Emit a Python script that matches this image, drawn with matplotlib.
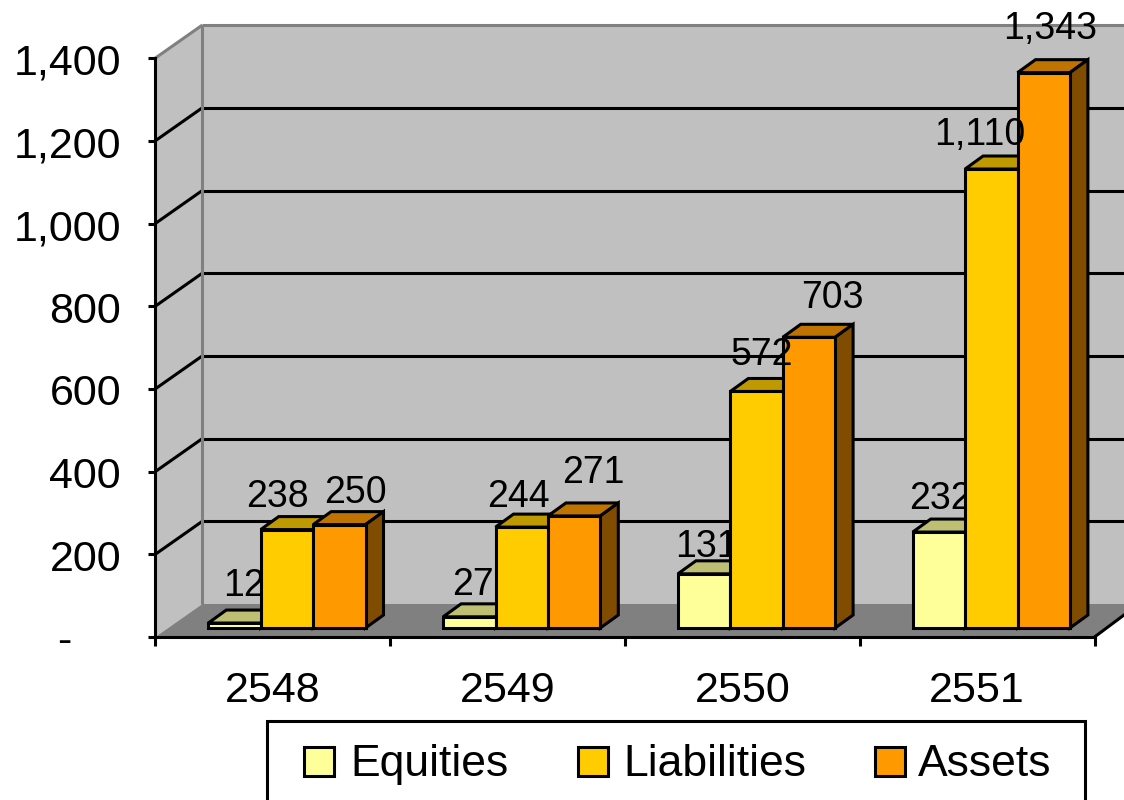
import matplotlib

matplotlib.use("Agg")
import matplotlib.pyplot as plt
import numpy as np
from matplotlib.patches import Polygon, Rectangle

years = ["2548", "2549", "2550", "2551"]
equities = [12, 27, 131, 232]
liabilities = [238, 244, 572, 1110]
assets = [250, 271, 703, 1343]
value_ticks = [200, 400, 600, 800, 1000, 1200, 1400]
value_tick_labels = ["200", "400", "600", "800", "1,000", "1,200", "1,400"]

# label nudges in pixels: sideways from bar centre, up from bar front top
equities_nudge = [(9, 40), (4, 34), (2, 29), (2, 36)]
liabilities_nudge = [(-9, 35), (-3, 33), (5, 39), (-12, 37)]
assets_nudge = [(16, 34), (19, 45), (23, 42), (6, 46)]

WIDTH, HEIGHT = 1124, 800
X0, Y0 = 155.3, 637.0
CAT_PX = 234.8
VAL_PX = 0.4135
WALL_DX, WALL_DY = 47, 33
BAR_DX, BAR_DY = 18, 13
BAR_BASE_PX = 628
BAR_START_PX = 53
BAR_PX = 52.4
LW = 2.2
TEXT_FONT = "Liberation Sans"


def px_x(x):
    return (x - X0) / CAT_PX


def px_y(y):
    return (Y0 - y) / VAL_PX


def pts(*pairs):
    return [(px_x(x), px_y(y)) for x, y in pairs]


def draw_series(ax, values, offset, face, top, side, zorder):
    lefts = np.arange(len(values)) + (BAR_START_PX + offset * BAR_PX) / CAT_PX
    base = px_y(BAR_BASE_PX)
    ax.bar(
        lefts,
        values,
        width=BAR_PX / CAT_PX,
        bottom=base,
        align="edge",
        color=face,
        edgecolor="black",
        linewidth=LW,
        joinstyle="miter",
        zorder=zorder + 0.2,
    )
    step_x = BAR_DX / CAT_PX
    step_y = BAR_DY / VAL_PX
    right_w = BAR_PX / CAT_PX
    for left, value in zip(lefts, values):
        y_top = base + value
        ax.add_patch(
            Polygon(
                [
                    (left, y_top),
                    (left + step_x, y_top + step_y),
                    (left + right_w + step_x, y_top + step_y),
                    (left + right_w, y_top),
                ],
                facecolor=top,
                edgecolor="black",
                linewidth=LW,
                zorder=zorder,
            )
        )
        ax.add_patch(
            Polygon(
                [
                    (left + right_w, base),
                    (left + right_w + step_x, base + step_y),
                    (left + right_w + step_x, y_top + step_y),
                    (left + right_w, y_top),
                ],
                facecolor=side,
                edgecolor="black",
                linewidth=LW,
                zorder=zorder + 0.1,
            )
        )


def draw_labels(ax, values, offset, nudges, zorder):
    base = px_y(BAR_BASE_PX)
    for i, (value, nudge) in enumerate(zip(values, nudges)):
        x = i + (BAR_START_PX + (offset + 0.5) * BAR_PX + nudge[0]) / CAT_PX
        y = base + value + (nudge[1] - 12.5) / VAL_PX
        ax.text(
            x,
            y,
            f"{value:,}",
            ha="center",
            va="baseline",
            fontsize=27,
            family=TEXT_FONT,
            zorder=zorder,
        )


fig = plt.figure(figsize=(WIDTH / 100, HEIGHT / 100), dpi=100)
ax = fig.add_axes([0, 0, 1, 1])
ax.set_xlim(px_x(0), px_x(WIDTH))
ax.set_ylim(px_y(HEIGHT), px_y(0))
ax.axis("off")

top_value = value_ticks[-1]
wall_left = X0 + WALL_DX
wall_floor = Y0 - WALL_DY
wall_top = wall_floor - top_value * VAL_PX
front_top = Y0 - top_value * VAL_PX

ax.add_patch(
    Polygon(pts((wall_left, wall_top), (WIDTH, wall_top), (WIDTH, wall_floor), (wall_left, wall_floor)),
            facecolor="#c0c0c0", edgecolor="none", zorder=1)
)
ax.add_patch(
    Polygon(pts((X0, front_top), (wall_left, wall_top), (wall_left, wall_floor), (X0, Y0)),
            facecolor="#c0c0c0", edgecolor="none", zorder=1)
)
ax.add_patch(
    Polygon(pts((X0, Y0), (wall_left, wall_floor), (WIDTH, wall_floor), (WIDTH, Y0 - 22), (X0 + 4 * CAT_PX, Y0)),
            facecolor="#808080", edgecolor="none", zorder=1)
)

# gridlines run along the side wall and then the back wall
for value in value_ticks:
    x_front, x_back = 0, px_x(wall_left)
    shift = WALL_DY / VAL_PX
    color = "#808080" if value == top_value else "black"
    ax.plot([x_front, x_back], [value, value + shift], color=color, lw=LW, zorder=1.5, solid_capstyle="butt")
    ax.plot([x_back, px_x(WIDTH)], [value + shift, value + shift], color=color, lw=LW, zorder=1.5, solid_capstyle="butt")

ax.plot([px_x(wall_left)] * 2, [px_y(wall_top), px_y(wall_floor)], color="#808080", lw=LW, zorder=1.6, solid_capstyle="butt")

# front axes
ax.plot([0, 0], [0, top_value], color="black", lw=LW, zorder=1.8, solid_capstyle="projecting")
ax.plot([0, len(years)], [0, 0], color="black", lw=LW, zorder=1.8, solid_capstyle="projecting")
ax.plot([len(years), px_x(WIDTH)], [0, px_y(Y0 - 22)], color="black", lw=LW, zorder=1.8)
for value in [0] + value_ticks:
    ax.plot([px_x(X0 - 7), 0], [value, value], color="black", lw=LW, zorder=1.8, solid_capstyle="butt")
for i in range(len(years) + 1):
    ax.plot([i, i], [0, px_y(Y0 + 9)], color="black", lw=LW, zorder=1.8, solid_capstyle="butt")

for value, label in zip(value_ticks, value_tick_labels):
    ax.text(px_x(121), value - 16.5 / VAL_PX, label, ha="right", va="baseline", fontsize=31, family=TEXT_FONT)
ax.text(px_x(64), px_y(653), "-", ha="center", va="baseline", fontsize=31, family=TEXT_FONT)

for i, year in enumerate(years):
    ax.text(i + 0.5, px_y(702), year, ha="center", va="baseline", fontsize=31, family=TEXT_FONT)

draw_series(ax, equities, 0, "#ffff99", "#bfbf73", "#7f7f4c", 2)
draw_labels(ax, equities, 0, equities_nudge, 3)
draw_series(ax, liabilities, 1, "#ffcc00", "#bf9900", "#7f6600", 4)
draw_series(ax, assets, 2, "#ff9900", "#bf7300", "#7f4c00", 5)
draw_labels(ax, liabilities, 1, liabilities_nudge, 6)
draw_labels(ax, assets, 2, assets_nudge, 7)

# legend box runs off the bottom edge of the image
ax.plot([px_x(267)] * 2 + [px_x(1085)] * 2, [px_y(HEIGHT), px_y(720.5), px_y(720.5), px_y(HEIGHT)],
        color="black", lw=LW, zorder=8, solid_joinstyle="miter")
legend_items = [("Equities", "#ffff99", 304, 350), ("Liabilities", "#ffcc00", 578, 623), ("Assets", "#ff9900", 875, 918)]
for name, color, box_x, text_x in legend_items:
    ax.add_patch(
        Rectangle((px_x(box_x), px_y(776)), 30 / CAT_PX, 29 / VAL_PX, facecolor=color,
                  edgecolor="black", linewidth=LW, zorder=8)
    )
    ax.text(px_x(text_x), px_y(776), name, ha="left", va="baseline", fontsize=32, family=TEXT_FONT, zorder=8)

fig.savefig("out.png", dpi=100)
plt.close(fig)
